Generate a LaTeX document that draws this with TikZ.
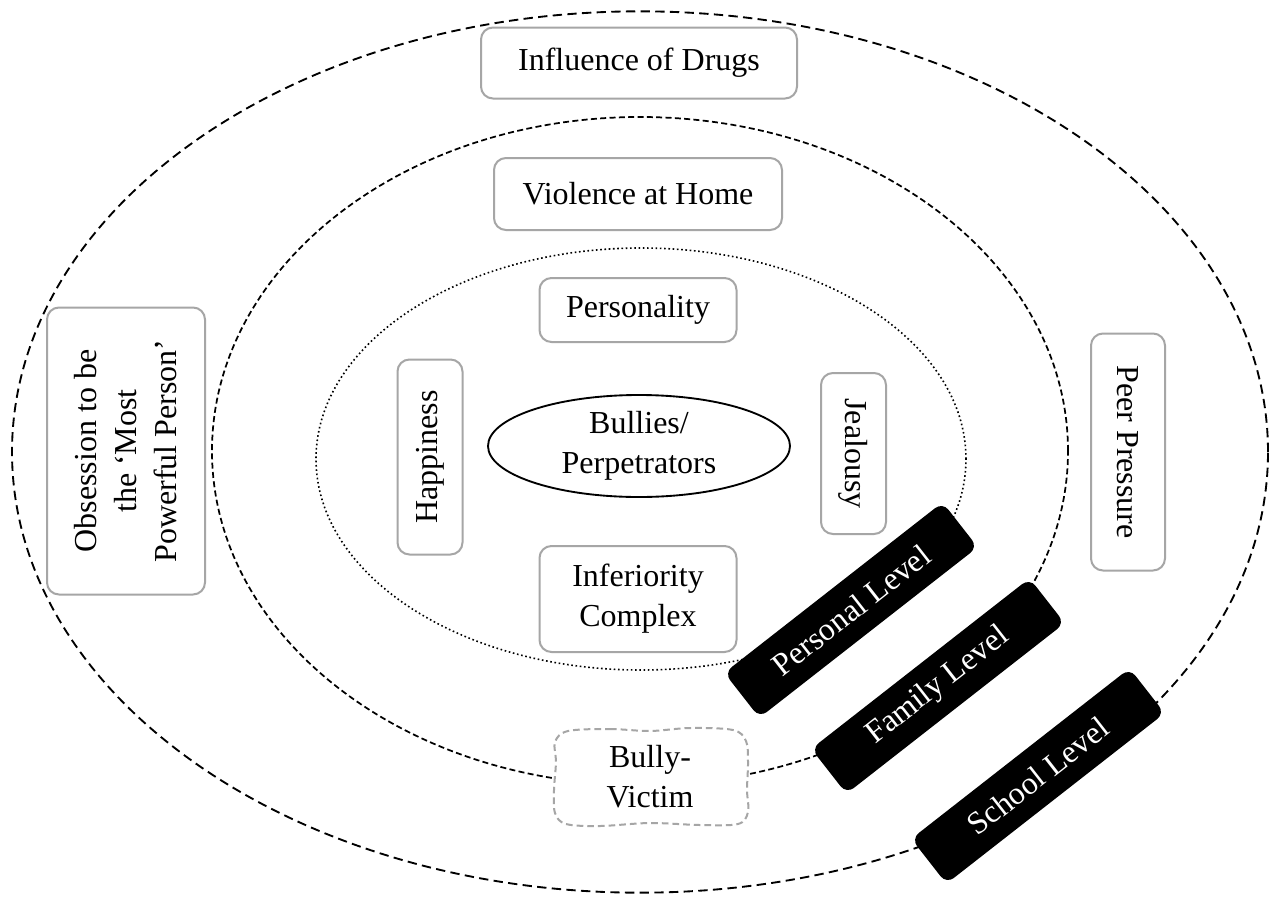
\documentclass[tikz,border=0pt]{standalone}
\usepackage{fontspec}
\setmainfont{Liberation Serif}
\usetikzlibrary{shapes.geometric}
\definecolor{boxgray}{HTML}{A6A6A6}
\begin{document}
\begin{tikzpicture}[x=0.75pt,y=-0.75pt,
  txt/.style={font=\fontsize{24}{30}\selectfont, align=center},
  box/.style={txt, draw=boxgray, line width=1.5pt, rounded corners=9pt, fill=white, inner sep=0pt},
  lvl/.style={txt, fill=black, text=white, rounded corners=7pt, inner sep=0pt,
              minimum width=207.75pt, minimum height=42.75pt, rotate=38},
  ring/.style={ellipse, inner sep=0pt, outer sep=0pt}
]
\useasboundingbox (0,0) rectangle (1270,903);
\fill[white] (0,0) rectangle (1270,903);

% rings
\node[ring, draw, line width=1.4pt, dash pattern=on 7pt off 4pt,
      minimum width=942pt, minimum height=661pt] (school) at (640,452) {};
\node[ring, draw, line width=1.3pt, dash pattern=on 4.5pt off 2.5pt,
      minimum width=642pt, minimum height=501pt] (family) at (640,451) {};
\node[ring, draw, line width=1.2pt, dotted,
      minimum width=487.5pt, minimum height=316.5pt] (personal) at (641,459) {};

% centre
\node[ellipse, draw, line width=1.4pt, fill=white, txt, inner sep=0pt,
      minimum width=226.5pt, minimum height=76.5pt] (bully) at (639,446) {Bullies/\\Perpetrators};

% boxes
\node[box, minimum width=237pt, minimum height=53.25pt] (drugs) at (639,63) {Influence of Drugs};
\node[box, minimum width=216pt, minimum height=54pt] (home) at (638,194) {Violence at Home};
\node[box, minimum width=147.75pt, minimum height=48pt] (pers) at (638,310) {Personality};
\node[box, minimum width=147.75pt, minimum height=79.5pt] (infer) at (638,599) {Inferiority\\Complex};
\node[box, rotate=90, minimum width=146.25pt, minimum height=48.75pt] (happy) at (430,457) {Happiness};
\node[box, rotate=-90, minimum width=120.75pt, minimum height=48.75pt] (jeal) at (853.5,453.5) {Jealousy};
\node[box, rotate=-90, minimum width=177.75pt, minimum height=55.5pt] (peer) at (1128,452) {Peer Pressure};
\node[box, rotate=90, minimum width=215.25pt, minimum height=118.5pt] (obs) at (126,451)
     {Obsession to be\\the ‘Most\\Powerful Person’};

% bully-victim wavy dashed box
\path[fill=white, draw=boxgray, line width=1.5pt, dash pattern=on 5pt off 3pt]
  plot[smooth cycle, tension=0.55] coordinates {
    (568,731) (610,729) (650,731) (690,728) (733,730) (746,741)
    (748,762) (747,790) (748,812) (738,824) (700,825) (650,823)
    (600,826) (566,824) (555,813) (554,790) (556,762) (555,742)};
\node[txt] (bv) at (650,777) {Bully-\\Victim};

% level labels
\node[lvl] (lpers) at (851,610) {Personal Level};
\node[lvl] (lfam) at (938,686) {Family Level};
\node[lvl] (lsch) at (1038,776) {School Level};
\end{tikzpicture}
\end{document}
